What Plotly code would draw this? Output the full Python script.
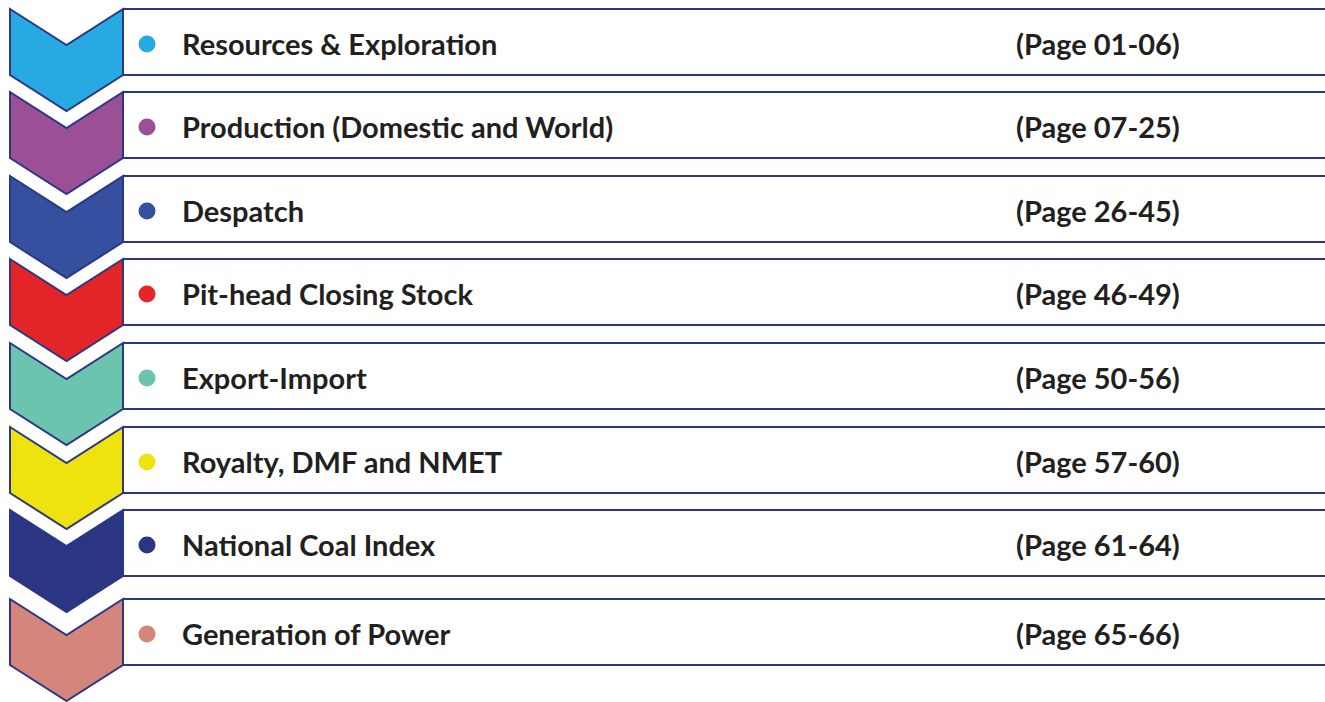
import plotly.graph_objects as go

# ---- data ----
sections = [
    "Resources & Exploration",
    "Production (Domestic and World)",
    "Despatch",
    "Pit-head Closing Stock",
    "Export-Import",
    "Royalty, DMF and NMET",
    "National Coal Index",
    "Generation of Power",
]
pages = [
    "(Page 01-06)",
    "(Page 07-25)",
    "(Page 26-45)",
    "(Page 46-49)",
    "(Page 50-56)",
    "(Page 57-60)",
    "(Page 61-64)",
    "(Page 65-66)",
]
colors = ["#27AAE1", "#9B4F96", "#34509F", "#E42528",
          "#6CC3AE", "#EEE30F", "#2A3682", "#D4857C"]

# ---- layout constants ----
W, H = 1325, 702
row_tops = [9, 92, 176, 259, 343, 427, 510, 599]
BORDER = "#2B3685"
TEXT = "#231F20"
FONT = "Lato"
FSIZE = 29

fig = go.Figure()
shapes = []
annotations = []
for i, top in enumerate(row_tops):
    bot = top + 66
    line = dict(color=BORDER, width=2)
    # box: top, bottom and left border (open to the right)
    shapes.append(dict(type="line", xref="x", yref="y", x0=123, x1=W + 20,
                       y0=top, y1=top, line=line, layer="below"))
    shapes.append(dict(type="line", xref="x", yref="y", x0=123, x1=W + 20,
                       y0=bot, y1=bot, line=line, layer="below"))
    # chevron
    path = (f"M 10,{top} L 66.5,{top+36} L 123,{top} L 123,{bot} "
            f"L 66.5,{top+102} L 10,{bot} Z")
    shapes.append(dict(type="path", xref="x", yref="y", path=path,
                       fillcolor=colors[i], line=line, layer="above"))
    annotations.append(dict(x=180, y=top + 34, xref="x", yref="y",
                            text=f"<b>{sections[i]}</b>", showarrow=False,
                            xanchor="left", yanchor="middle",
                            font=dict(family=FONT, size=FSIZE, color=TEXT)))
    annotations.append(dict(x=1014, y=top + 34, xref="x", yref="y",
                            text=f"<b>{pages[i]}</b>", showarrow=False,
                            xanchor="left", yanchor="middle",
                            font=dict(family=FONT, size=FSIZE, color=TEXT)))

fig.add_trace(go.Scatter(
    x=[147] * len(sections), y=[t + 35 for t in row_tops], mode="markers",
    marker=dict(size=17, color=colors, line=dict(width=0)),
    hoverinfo="skip", showlegend=False))

fig.update_layout(
    width=W, height=H, margin=dict(l=0, r=0, t=0, b=0),
    paper_bgcolor="white", plot_bgcolor="white",
    xaxis=dict(range=[0, W], visible=False, fixedrange=True),
    yaxis=dict(range=[H, 0], visible=False, fixedrange=True),
    shapes=shapes, annotations=annotations, showlegend=False,
)
fig.write_html(
    "out.html",
    config={"displayModeBar": False},
    post_script="document.body.style.margin='0';document.body.style.overflow='hidden';",
)
